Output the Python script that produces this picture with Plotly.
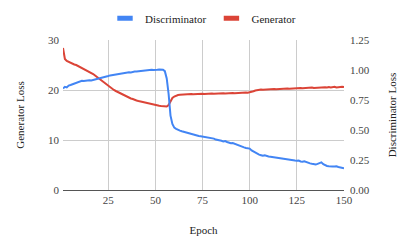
import plotly.graph_objects as go

epochs = list(range(1, 151))

generator_loss = [
    28.4, 26.2, 25.8, 25.6, 25.4, 25.3, 25.1, 25.0, 24.8, 24.6,
    24.4, 24.3, 24.1, 23.9, 23.7, 23.4, 23.2, 22.9, 22.6, 22.3,
    22.0, 21.7, 21.4, 21.1, 20.8, 20.5, 20.3, 20.0, 19.8, 19.6,
    19.4, 19.2, 19.0, 18.8, 18.6, 18.5, 18.3, 18.2, 18.0, 17.9,
    17.8, 17.7, 17.6, 17.5, 17.4, 17.3, 17.2, 17.1, 17.05, 17.0,
    16.9, 16.85, 16.8, 16.75, 16.7, 16.7, 17.0, 17.8, 18.4, 18.7,
    18.9, 19.0, 19.05, 19.1, 19.1, 19.15, 19.1, 19.15, 19.2, 19.15,
    19.2, 19.2, 19.15, 19.2, 19.25, 19.2, 19.25, 19.2, 19.25, 19.3,
    19.25, 19.3, 19.3, 19.25, 19.3, 19.35, 19.3, 19.35, 19.3, 19.35,
    19.4, 19.35, 19.4, 19.4, 19.45, 19.4, 19.45, 19.5, 19.45, 19.5,
    19.6, 19.75, 19.9, 20.0, 20.05, 20.1, 20.05, 20.1, 20.1, 20.15,
    20.1, 20.15, 20.2, 20.15, 20.2, 20.2, 20.25, 20.2, 20.25, 20.3,
    20.25, 20.3, 20.3, 20.35, 20.3, 20.35, 20.4, 20.35, 20.4, 20.45,
    20.4, 20.45, 20.5, 20.4, 20.45, 20.5, 20.55, 20.45, 20.5, 20.55,
    20.5, 20.6, 20.5, 20.55, 20.65, 20.5, 20.6, 20.55, 20.65, 20.6,
]

discriminator_loss = [
    0.845, 0.86, 0.855, 0.87, 0.875, 0.88, 0.885, 0.895, 0.9, 0.905,
    0.91, 0.908, 0.912, 0.91, 0.915, 0.912, 0.916, 0.918, 0.92, 0.925,
    0.93, 0.935, 0.94, 0.945, 0.95, 0.955, 0.958, 0.96, 0.962, 0.965,
    0.968, 0.97, 0.975, 0.977, 0.978, 0.982, 0.98, 0.985, 0.987, 0.988,
    0.99, 0.992, 0.995, 0.993, 0.997, 0.998, 1.0, 1.002, 1.0, 1.004,
    1.003, 1.005, 1.004, 1.002, 0.99, 0.93, 0.80, 0.62, 0.55, 0.52,
    0.51, 0.50, 0.495, 0.49, 0.485, 0.48, 0.475, 0.47, 0.465, 0.46,
    0.458, 0.452, 0.45, 0.448, 0.445, 0.447, 0.442, 0.44, 0.436, 0.43,
    0.428, 0.42, 0.418, 0.415, 0.41, 0.405, 0.408, 0.40, 0.395, 0.39,
    0.392, 0.385, 0.378, 0.372, 0.365, 0.36, 0.355, 0.35, 0.348, 0.345,
    0.33, 0.32, 0.31, 0.305, 0.295, 0.29, 0.285, 0.29, 0.282, 0.28,
    0.278, 0.275, 0.272, 0.27, 0.268, 0.265, 0.262, 0.26, 0.258, 0.255,
    0.252, 0.25, 0.248, 0.245, 0.243, 0.245, 0.238, 0.235, 0.24, 0.232,
    0.228, 0.222, 0.218, 0.215, 0.212, 0.218, 0.225, 0.23, 0.215, 0.205,
    0.2, 0.198, 0.2, 0.196, 0.195, 0.198, 0.192, 0.19, 0.186, 0.182,
]

x_ticks = [25, 50, 75, 100, 125, 150]
left_ticks = [0, 10, 20, 30]
right_ticks = [0, 0.25, 0.5, 0.75, 1.0, 1.25]
right_tick_labels = ["0.00", "0.25", "0.50", "0.75", "1.00", "1.25"]

BLUE = "#4285F4"
RED = "#DB4437"
FONT = "Liberation Serif"
TICKFONT = dict(family=FONT, size=11, color="#444")
TITLEFONT = dict(family=FONT, size=11, color="#222")

fig = go.Figure()
fig.add_trace(go.Scatter(x=epochs, y=discriminator_loss, yaxis="y2", mode="lines",
                         line=dict(color=BLUE, width=2), showlegend=False))
fig.add_trace(go.Scatter(x=epochs, y=generator_loss, yaxis="y", mode="lines",
                         line=dict(color=RED, width=2), showlegend=False))
# legend entries
fig.add_trace(go.Scatter(x=[None], y=[None], mode="markers", name="Discriminator",
                         marker=dict(symbol="line-ew-open", size=11, color=BLUE,
                                     line=dict(color=BLUE, width=5))))
fig.add_trace(go.Scatter(x=[None], y=[None], mode="markers", name="Generator",
                         marker=dict(symbol="line-ew-open", size=11, color=RED,
                                     line=dict(color=RED, width=5))))

fig.update_layout(
    width=410, height=250,
    margin=dict(l=63, r=66, t=40, b=60, autoexpand=False),
    paper_bgcolor="white", plot_bgcolor="white",
    font=dict(family=FONT, size=11, color="#222"),
    legend=dict(orientation="h", xref="container", yref="container",
                x=0.5 - 2 / 410, xanchor="center", y=0.985, yanchor="top",
                font=dict(family=FONT, size=11, color="#222"), itemwidth=30,
                bgcolor="rgba(0,0,0,0)"),
    xaxis=dict(range=[1, 150], tickvals=x_ticks, showgrid=True, gridcolor="#cccccc",
               zeroline=False, showline=True, linecolor="#555", linewidth=1,
               tickfont=TICKFONT, automargin=False,
               title=dict(text="Epoch", standoff=21, font=TITLEFONT)),
    yaxis=dict(range=[0, 30], tickvals=left_ticks, showgrid=True, gridcolor="#cccccc",
               zeroline=False, tickfont=TICKFONT, ticklabelstandoff=3, automargin=False,
               title=dict(text="Generator Loss", standoff=21, font=TITLEFONT)),
    yaxis2=dict(range=[0, 1.25], tickvals=right_ticks, ticktext=right_tick_labels,
                overlaying="y", side="right", showgrid=False, zeroline=False,
                tickfont=TICKFONT, ticklabelstandoff=5, automargin=False,
                title=dict(text="Discriminator Loss", standoff=19, font=TITLEFONT)),
)

fig.write_html("out.html", config={"displayModeBar": False},
               post_script="document.body.style.margin='0';")
